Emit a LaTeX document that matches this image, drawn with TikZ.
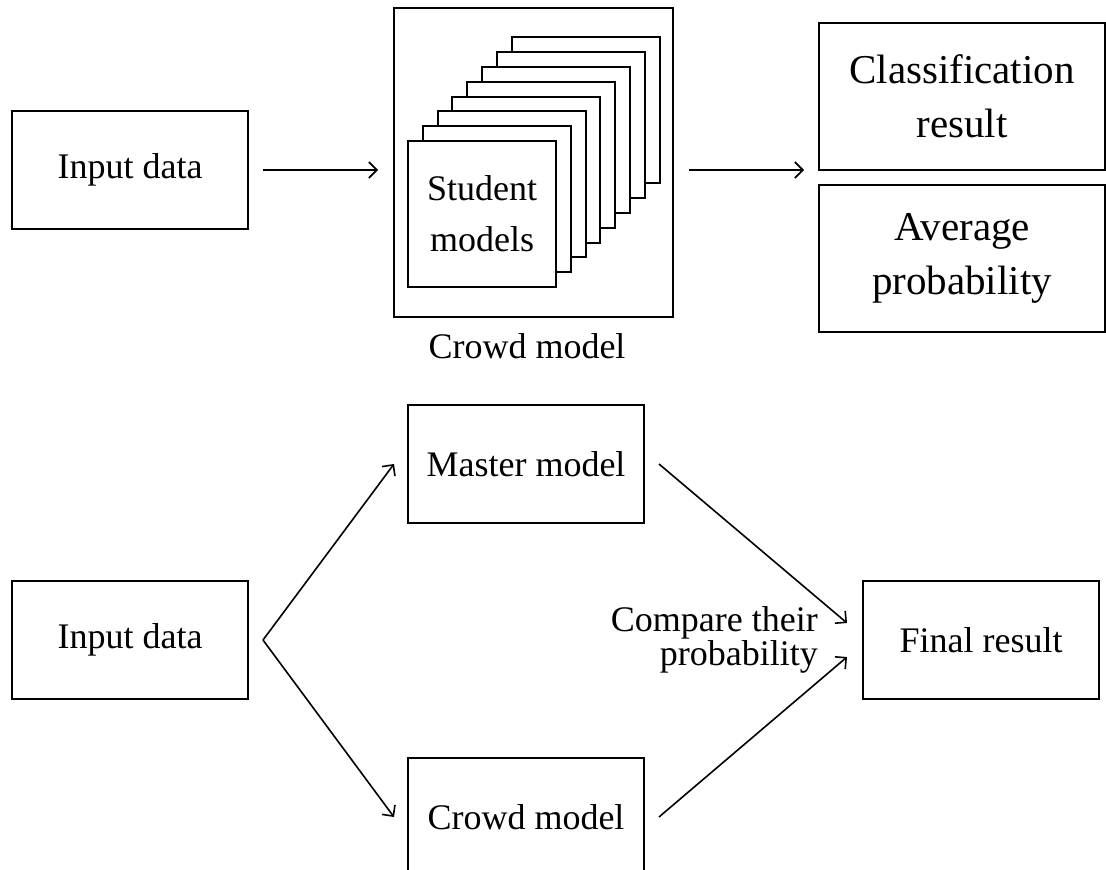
\documentclass[tikz,border=0pt]{standalone}
\usepackage{fontspec}
\setmainfont{Liberation Serif}
\usetikzlibrary{positioning, arrows.meta}

\tikzset{
  box/.style={draw, line width=2pt, fill=white, minimum width=236pt,
    minimum height=118pt, inner sep=0pt, align=center,
    font=\fontsize{36}{44}\selectfont},
  bigbox/.style={box, minimum width=286pt, minimum height=147pt,
    font=\fontsize{41}{54}\selectfont},
  arr/.style={line width=1.6pt, -{Straight Barb[length=8pt,width=16pt]}},
}

\begin{document}
\begin{tikzpicture}[x=1pt, y=-1pt]
    \useasboundingbox (0,0) rectangle (1106,870);

    % Crowd model: input, stack of students, outputs
    \node[box] (in1) at (130,170) {Input data};
    \node[box, minimum width=279pt, minimum height=309pt] (crowd) at (533.5,162.5) {};
    % Stacked student models (back to front)
    \foreach \i in {7,...,1} {
        \draw[line width=2pt, fill=white] (408+14.8*\i, 141-14.8*\i) rectangle ++(148,146);
    }
    \node[box, minimum width=148pt, minimum height=146pt,
      font=\fontsize{36}{51}\selectfont] (student) at (482,214) {Student\\models};
    \node[anchor=base, font=\fontsize{36}{44}\selectfont] (crowdlbl) at (527,358) {Crowd model};

    \node[bigbox] (cls) at (962,96.5) {Classification\\result};
    \node[bigbox] (avg) at (962,258.5) {Average\\probability};

    \draw[arr, shorten <=14pt, shorten >=15pt] (in1.east) -- (in1.east -| crowd.west);
    \draw[arr, shorten <=15pt, shorten >=14pt] (in1.east -| crowd.east) -- (in1.east -| cls.west);

    % Master model vs crowd model
    \node[box] (in2) at (130,640) {Input data};
    \node[box] (master) at (526,464) {Master model};
    \node[box] (crowd2) at (526,817) {Crowd model};
    \node[box] (final) at (981,640) {Final result};
    \node[anchor=east, align=right, inner sep=0pt,
      font=\fontsize{36}{34}\selectfont] (cmp) at (818,640) {Compare their\\probability};

    \coordinate (fork) at ([xshift=14pt]in2.east);
    \draw[arr] (fork) -- ([xshift=-13pt]master.west);
    \draw[arr] (fork) -- ([xshift=-13pt]crowd2.west);
    \draw[arr] ([xshift=14pt]master.east) -- ([shift={(-15,-17)}]final.west);
    \draw[arr] ([xshift=14pt]crowd2.east) -- ([shift={(-15,17)}]final.west);
\end{tikzpicture}
\end{document}
